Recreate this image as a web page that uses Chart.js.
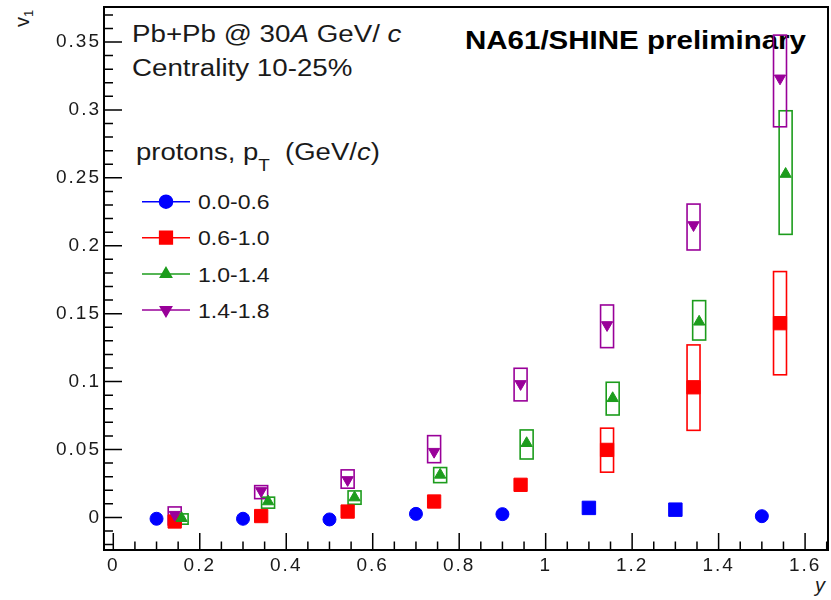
<!DOCTYPE html>
<html>
<head>
<meta charset="utf-8">
<script src="https://cdn.jsdelivr.net/npm/chart.js@4.4.1/dist/chart.umd.min.js"></script>
<style>
  html, body { margin: 0; padding: 0; background: #fff; }
  #wrap { position: relative; width: 831px; height: 600px; overflow: hidden; }
  #wrap canvas { position: absolute; left: 0; top: 0; }
  .t { position: absolute; white-space: nowrap; line-height: 1; font-family: 'Liberation Sans', Arial, sans-serif;
       color: #1a1a1a; transform-origin: 0 0; transform: scaleX(1.18); }
  .t i { font-style: italic; }
</style>
</head>
<body>
<div id="wrap">
  <div class="t" style="left:132px; top:22.8px; font-size:23.5px">Pb+Pb @ 30<i>A</i> GeV/ <i>c</i></div>
  <div class="t" style="left:132px; top:56.8px; font-size:23.5px">Centrality 10-25%</div>
  <div class="t" style="left:465px; top:28px; font-size:25px; font-weight:bold; color:#000">NA61/SHINE preliminary</div>
  <div class="t" style="left:136px; top:140.5px; font-size:23.3px">protons, p<span style="font-size:16px; position:relative; top:11px">T</span>&nbsp; (GeV/<i>c</i>)</div>
  <div class="t" style="left:815px; top:575px; font-size:20px; transform:none"><i>y</i></div>
  <div class="t" style="left:12px; top:27px; font-size:20px; transform:rotate(-90deg)">v<span style="font-size:13px; position:relative; top:4px">1</span></div>
  <canvas id="c" width="831" height="600"></canvas>
</div>
<script>
// proton transverse momentum bins (GeV/c)
const ptBins = ['0.0-0.6', '0.6-1.0', '1.0-1.4', '1.4-1.8'];

// rapidity positions and v1 values
const blueX = [0.1, 0.3, 0.5, 0.7, 0.9, 1.1, 1.3, 1.5];
const blueV = [-0.001, -0.001, -0.0015, 0.0026, 0.0024, 0.007, 0.0057, 0.0009];

const redX = [0.142, 0.342, 0.542, 0.742, 0.942, 1.142, 1.342, 1.542];
const redV = [-0.003, 0.001, 0.0043, 0.0117, 0.024, 0.0497, 0.0958, 0.143];
const redSysLo = [null, null, null, null, null, 0.0333, 0.0641, 0.105];
const redSysHi = [null, null, null, null, null, 0.0657, 0.127, 0.181];

const greenX = [0.158, 0.358, 0.558, 0.756, 0.956, 1.155, 1.355, 1.555];
const greenV = [-0.0006, 0.0117, 0.0146, 0.0313, 0.0546, 0.0877, 0.144, 0.2528];
const greenSysLo = [-0.005, 0.0068, 0.0097, 0.0256, 0.043, 0.0754, 0.1306, 0.2084];
const greenSysHi = [0.0026, 0.0149, 0.0195, 0.0367, 0.0644, 0.0995, 0.1596, 0.2994];

const purpleX = [0.142, 0.342, 0.542, 0.742, 0.942, 1.142, 1.342, 1.542];
const purpleV = [0.002, 0.0195, 0.0276, 0.0484, 0.0983, 0.1417, 0.2153, 0.3233];
const purpleSysLo = [-0.0055, 0.0138, 0.0215, 0.0403, 0.0858, 0.125, 0.1969, 0.2876];
const purpleSysHi = [0.0077, 0.0234, 0.035, 0.0602, 0.1098, 0.1564, 0.2307, 0.3551];

const xTickLabels = [0, 0.2, 0.4, 0.6, 0.8, 1, 1.2, 1.4, 1.6];
const yTickLabels = [0, 0.05, 0.1, 0.15, 0.2, 0.25, 0.3, 0.35];

const pts = (xs, vs) => xs.map((x, i) => ({x: x, y: vs[i]}));

const cBlue = '#0000ff', cRed = '#ff0000', cGreen = '#1c9c1c', cPurple = '#990099';

const datasets = [
  {label: ptBins[0], data: pts(blueX, blueV), order: 3,
   pointStyle: ['circle', 'circle', 'circle', 'circle', 'circle', 'rect', 'rect', 'circle'],
   pointRadius: [6.5, 6.5, 6.5, 6.5, 6.5, 9.5, 9.5, 6.5],
   backgroundColor: cBlue, borderColor: cBlue},
  {label: ptBins[1], data: pts(redX, redV), order: 2, pointStyle: 'rect', pointRadius: 9.4,
   backgroundColor: cRed, borderColor: cRed, sysLo: redSysLo, sysHi: redSysHi},
  {label: ptBins[2], data: pts(greenX, greenV), order: 1, pointStyle: 'triangle', pointRadius: 6.5,
   backgroundColor: cGreen, borderColor: cGreen, sysLo: greenSysLo, sysHi: greenSysHi},
  {label: ptBins[3], data: pts(purpleX, purpleV), order: 0, pointStyle: 'triangle', pointRotation: 180, pointRadius: 6.5,
   backgroundColor: cPurple, borderColor: cPurple, sysLo: purpleSysLo, sysHi: purpleSysHi},
];

// systematic error boxes
const sysBoxes = {
  id: 'sysBoxes',
  beforeDatasetsDraw(chart) {
    const {ctx, scales: {x, y}} = chart;
    ctx.save();
    ctx.lineWidth = 1.6;
    chart.data.datasets.forEach(ds => {
      if (!ds.sysLo) return;
      ctx.strokeStyle = ds.borderColor;
      ds.data.forEach((p, i) => {
        if (ds.sysLo[i] == null) return;
        const l = x.getPixelForValue(p.x - 0.015), r = x.getPixelForValue(p.x + 0.015);
        const t = y.getPixelForValue(ds.sysHi[i]), b = y.getPixelForValue(ds.sysLo[i]);
        ctx.strokeRect(l, t, r - l, b - t);
      });
    });
    ctx.restore();
  }
};

// ROOT-like frame with inward ticks
const frame = {
  id: 'frame',
  beforeDraw(chart) { chart.ctx.letterSpacing = '2px'; },
  afterDraw(chart) {
    const {ctx, chartArea: a, scales: {x, y}} = chart;
    ctx.save();
    ctx.letterSpacing = '0px';
    ctx.strokeStyle = '#000';
    ctx.lineWidth = 1.5;
    ctx.beginPath();
    for (let i = Math.ceil(x.min / 0.05); i * 0.05 <= x.max; i++) {
      const px = x.getPixelForValue(i * 0.05);
      ctx.moveTo(px, a.bottom);
      ctx.lineTo(px, a.bottom - (i % 4 === 0 ? 17 : 8.5));
    }
    for (let i = Math.ceil(y.min / 0.01); i * 0.01 <= y.max; i++) {
      const py = y.getPixelForValue(i * 0.01);
      ctx.moveTo(a.left, py);
      ctx.lineTo(a.left + (i % 5 === 0 ? 18 : 9), py);
    }
    ctx.stroke();
    ctx.lineWidth = 2;
    ctx.strokeRect(a.left, a.top, a.right - a.left, a.bottom - a.top);
    ctx.restore();
  }
};

// legend drawn inside the frame, ROOT style (line through marker)
const legendRows = [201.7, 237.7, 274, 310];
const rootLegend = {
  id: 'rootLegend',
  afterDraw(chart) {
    const ctx = chart.ctx;
    ctx.save();
    chart.data.datasets.forEach((ds, i) => {
      const yy = legendRows[i];
      ctx.strokeStyle = ds.borderColor;
      ctx.lineWidth = 1.5;
      ctx.beginPath();
      ctx.moveTo(142, yy);
      ctx.lineTo(190, yy);
      ctx.stroke();
      ctx.fillStyle = ds.backgroundColor;
      const style = Array.isArray(ds.pointStyle) ? ds.pointStyle[0] : ds.pointStyle;
      const rad = style === 'circle' ? 6.5 : style === 'rect' ? 9 : 6.5;
      Chart.helpers.drawPoint(ctx, {pointStyle: style, radius: rad, rotation: ds.pointRotation || 0, borderWidth: 1}, 166, yy);
    });
    ctx.restore();
  }
};

const wrap = document.getElementById('wrap');
legendRows.forEach((yy, i) => {
  const d = document.createElement('div');
  d.className = 't';
  d.style.left = '198px';
  d.style.top = (yy - 8.5) + 'px';
  d.style.fontSize = '19.5px';
  d.textContent = ptBins[i];
  wrap.insertBefore(d, document.getElementById('c'));
});

const fmt = v => String(Number(v.toFixed(3)));
const tickFont = {family: "'Liberation Sans', Arial, sans-serif", size: 19};

new Chart(document.getElementById('c'), {
  type: 'scatter',
  data: {datasets: datasets},
  options: {
    responsive: false,
    animation: false,
    layout: {autoPadding: false, padding: {top: 7, right: 3, left: 0, bottom: 0}},
    plugins: {legend: {display: false}, tooltip: {enabled: false}},
    elements: {point: {borderWidth: 1}},
    scales: {
      x: {
        type: 'linear', min: -0.0215, max: 1.653,
        grid: {display: false, drawTicks: false}, border: {display: false},
        afterBuildTicks: s => { s.ticks = xTickLabels.map(v => ({value: v})); },
        ticks: {padding: 4, color: '#1a1a1a', maxRotation: 0, autoSkip: false, font: tickFont, callback: fmt},
        afterFit: s => { s.height = 50; s.paddingLeft = 0; s.paddingRight = 0; }
      },
      y: {
        type: 'linear', min: -0.024, max: 0.3758,
        grid: {display: false, drawTicks: false}, border: {display: false},
        afterBuildTicks: s => { s.ticks = yTickLabels.map(v => ({value: v})); },
        ticks: {padding: 3, color: '#1a1a1a', autoSkip: false, font: tickFont, callback: fmt},
        afterFit: s => { s.width = 104; s.paddingTop = 0; s.paddingBottom = 0; }
      }
    }
  },
  plugins: [sysBoxes, frame, rootLegend]
});
</script>
</body>
</html>
